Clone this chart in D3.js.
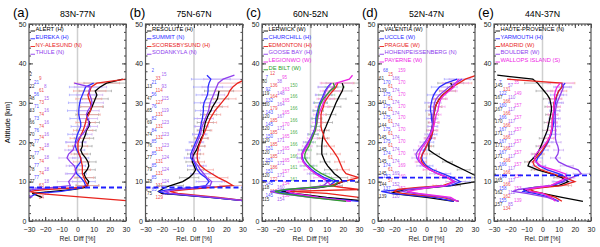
<!DOCTYPE html>
<html>
<head>
<meta charset="utf-8">
<script src="https://cdn.jsdelivr.net/npm/d3@7"></script>
<style>
  body { margin: 0; background: #fff; }
  text { font-family: "Liberation Sans", Arial, Helvetica, sans-serif; }
</style>
</head>
<body>
<div id="chart"></div>
<script>
// altitude grid [km] shared by every profile
const ALT = [5, 6, 7, 7.5, 8, 8.5, 9, 10, 11, 12, 13, 14, 15, 16, 17, 18, 19, 20, 21, 22,
             23, 24, 25, 26, 27, 28, 29, 30, 31, 32, 33, 34, 35, 36, 37];

const panelTags = ["(a)", "(b)", "(c)", "(d)", "(e)"];
const titles = ["83N-77N", "75N-67N", "60N-52N", "52N-47N", "44N-37N"];
const xTicks = [-30, -20, -10, 0, 10, 20, 30];
const yTicks = [0, 10, 20, 30, 40, 50];
const tropo = [8.5, 8.5, 10.2, 11, 11.6];   // dashed blue line [km]

// error bar levels [km] and half widths [%]
const errAlt = [9, 11, 13, 15, 17, 19, 21, 23, 25, 27, 29, 31, 33, 35];
const errA = [7, 6, 5, 5, 5, 6, 6, 6, 6, 7, 7, 8, 10, 14];
const errB = [8, 6, 5, 4, 4, 4, 4, 4, 5, 5, 6, 7, 9, 12];
const errC = [6, 5, 4, 3, 3, 3, 3, 3, 3, 3, 4, 5, 6, 10];
const errD = [6, 5, 4, 3, 3, 3, 3, 3, 3, 3, 4, 4, 5, 8];
const errE = [6, 5, 4, 3, 3, 3, 3, 3, 3, 3, 4, 4, 5, 8];

// (a) 83N-77N
const namesA = ["ALERT (H)", "EUREKA (H)", "NY-ALESUND (N)", "THULE (N)"];
const diffA = [
  [null,-22,-28,-15,-2,5,6,7,5,4,6,7,6.5,5,3,2,3,3,4,5,5.5,7,7.6,6,6,8,9,10,11,12,11,14,18,28,null],
  [null,-30,-25,-10,-3,3,5,4,2,-0.5,-1.3,0,2,2,0.8,-0.5,-1.3,-1.3,-0.7,0,1,2,2,1.3,0.8,0.8,1,1.4,2,3,4,5,10,null,null],
  [35,5,-25,-30,-20,2,6.4,5,4,3,3,3,2.4,2,1,0.3,0.3,0.3,1.4,2.4,3.5,4.3,5,5.5,7,8,8.5,8,7,6.4,7.6,8.5,12,30,null],
  [null,-28,-32,-30,-28,-15,-4.5,-5.5,-3.4,-1.5,-1,-2,-4.5,-6.5,-5.5,-2.8,-2,-0.7,0.8,3,5,6.4,7,6.4,5.5,6.4,8,9,8.5,7.6,7,8,-2,null,null]
];
const countsA = [
  [2,22,48,63,66,70,74,76,78,77,null],
  [21,56,71,73,76,77,77,77,77,77,null],
  [9,61,73,74,74,74,74,74,74,63,84],
  [8,15,16,16,16,18,18,18,18,18,null]
];

// (b) 75N-67N
const namesB = ["RESOLUTE (H)", "SUMMIT (N)", "SCORESBYSUND (H)", "SODANKYLA (N)"];
const diffB = [
  [35,10,-20,-22,-20,-18,-14.5,-7,-3,-0.5,1,0,-1,-1,0,1.5,2.5,3.5,4.5,5.8,6,6.5,7,8,9,10.4,11.5,13,14.5,15,15.5,null,null,null,null],
  [35,10,-18,-22,-14.5,0,7.3,9.3,7.3,4,2,1,0,-2,-2,-1,0,1,2.1,3.1,3.7,4.2,4.6,5.2,5.5,5.8,5.8,6.2,7.3,8.3,8.7,8.7,9.3,10.4,8],
  [35,15,-10,-15,-5,10,24,20,15,11,7,4,2.5,2,2,2.5,3,4,5,6,7,8,9,10,11.5,13,15,17,19,21,22,24,27,32,null],
  [35,12,-15,-18,-10,2,10,11,8,6,4,2.5,0.5,-0.5,-1,0,1,2,3,4,4.5,5,6,7,8,9,9.5,10,11,12,13,14,15,18,25]
];
const countsB = [
  [null,13,47,65,69,74,76,77,79,78,75],
  [2,21,56,76,82,84,85,85,85,85,85],
  [33,114,127,131,131,131,131,131,131,131,129],
  [15,93,115,119,123,123,123,124,124,124,132]
];

// (c) 60N-52N
const namesC = ["LERWICK (W)", "CHURCHILL (H)", "EDMONTON (H)", "GOOSE BAY (H)", "LEGIONWO (W)", "DE BILT (W)"];
const diffC = [
  [35,10,-10,-18,-10,5.4,13.75,20,18,14.8,12.7,10.6,9,8,7,7,7,7.2,7.5,8,8.5,9.6,10.6,11.7,12.7,13.75,14.8,15.8,17,18.3,19.6,20.4,19.6,null,null],
  [30,5,-15,-22,-10,3.3,11.7,15,8.5,4.4,0.8,-1.9,-4,-5,-5,-4,-2.5,-1.25,0.2,1.25,2.3,3,3.3,3.3,3.75,4.4,5,5.8,7,8,9,10.6,12.7,null,null],
  [35,30,10,-13,30,20,12,20,30,22,20,19,18,17,15.4,13.75,11.7,10,8.5,8,7,6.5,6.5,6.5,6.5,7,8,8.5,10,11.7,13.75,15.8,16.9,null,null],
  [25,0,-20,-25,-15,0,8,11,7,3,0,-2.5,-4.5,-5.5,-5.5,-4.5,-3,-1.5,0,1.5,2.5,3,3.5,4,4.5,5,5.5,6.5,7.5,8.5,9.5,11,13,null,null],
  [25,5,-10,-15,-10,2,12,11,7,3,0,-2.5,-4.5,-5.5,-5,-3.5,-2,-0.5,1,2,3,3.5,4,4.5,5,6,7,8,9,10,12,14,16,24,26],
  [22,0,-18,-22,-15,0,15,17,12,7,3,0,-2,-3.5,-3.5,-2.5,-1,0,1,2,3,3.5,4,4,4.5,5,5.5,6.5,8,10,12,15,14,null,null]
];
const countsC = [
  [80,119,120,120,120,120,120,120,120,118,115],
  [7,92,132,143,145,150,151,151,151,145,145],
  [12,136,164,179,185,185,185,185,186,172,112],
  [38,148,164,167,171,171,171,171,171,160,154],
  [95,163,165,165,170,165,165,165,157,154,150],
  [null,150,166,166,166,166,166,166,161,161,88]
];

// (d) 52N-47N
const namesD = ["VALENTIA (W)", "UCCLE (W)", "PRAGUE (W)", "HOHENPEISSENBERG (N)", "PAYERNE (W)"];
const diffD = [
  [17,0,-22,-18,-10,3,15,31,33,28,23,18,13,9,5,1.5,1.5,1.5,2,2.5,3,3.5,4,4,4.5,5,5.5,6.5,8,10,13,16,15,null,null],
  [17,5,-22,-28,-15,0,15,21,16,10,4,0,-2,-3,-2.5,-1.5,0,1.5,3,3.5,4,4,3.5,3,3,2.5,2.5,3,3.5,4.5,6,8,12,19,null],
  [20,10,-15,-20,-18,-5,10,17,13,7,2,-1,-3,-3.5,-2.5,-1,0,1,2.5,3.5,4,4,4.5,4.5,4.5,5,5.5,6.5,8,10,13,16,20,24,31],
  [20,12,-8,-15,-12,0,12,18,13,7,2,-2,-4.5,-6,-6.5,-5,-3,-1,0.5,2,3,3.5,4,4,4,4.5,4.5,5,6,8,11,14,18,22,null],
  [19,15,-5,-12,-5,2,12,17,13,7,2,-2,-4,-5,-4.5,-3.5,-2,0,1.5,2.5,3.5,4.5,5,5.5,6,7,7.5,8,9,11,14,17,18,20,null]
];
const countsD = [
  [61,139,141,144,144,145,145,145,145,144,139],
  [68,170,175,175,175,175,175,174,174,152,137],
  [15,61,61,61,61,61,61,61,61,57,43],
  [168,174,174,174,174,174,174,174,169,152,120],
  [159,170,170,170,170,170,170,170,169,160,152]
];

// (e) 44N-37N
const namesE = ["HAUTE-PROVENCE (N)", "YARMOUTH (H)", "MADRID (W)", "BOULDER (W)", "WALLOPS ISLAND (S)"];
const diffE = [
  [25,12,0,-8,-12,-5,10,16,12,5,-3,-9,-8,-5.5,-3.5,-2,-1,0,1,2,3,3.5,4,4.5,5,5.5,5.5,5,4.5,3,1,-1,-3,-6,-28],
  [10,5,-5,-12,-10,-2,6,13,15,10,3,-2,-4,-3,-1,0.5,2,3.5,4.5,5.5,6,6.5,7,7,7,7.5,7.5,8,8.5,9,10,12,14,null,null],
  [12,8,0,-5,-8,0,12,20,14,6,-1,-5,-6,-4,-2,0,1.5,3,4,5,5.5,6,6,6,6.5,7,7,7,8,9,10,12,12,-22,null],
  [10,3,-10,-18,-15,-5,5,12,18,24,22,15,10,8,9.5,10,9.5,8.5,8,8,8,8,8,8,8,8,8.5,9,10,11,12,13,12,null,null],
  [8,5,0,-8,-10,-3,5,10,15,14,7,-1,-4,-5,-4,-2,0.5,2.5,4,5,5.5,6,6,6.5,6.5,7,7,7.5,7.5,7.5,8,9,11,null,null]
];
const countsE = [
  [145,167,167,170,171,171,171,171,165,162,157],
  [7,122,160,166,167,167,167,166,166,158,155],
  [131,166,166,166,166,166,166,166,166,162,134],
  [57,110,117,117,117,117,117,117,117,112,85],
  [35,149,157,157,157,157,157,157,157,153,139]
];

const panels = [
  {names: namesA, diff: diffA, counts: countsA, err: errA},
  {names: namesB, diff: diffB, counts: countsB, err: errB},
  {names: namesC, diff: diffC, counts: countsC, err: errC},
  {names: namesD, diff: diffD, counts: countsD, err: errD},
  {names: namesE, diff: diffE, counts: countsE, err: errE}
];

// ---- layout / style ----
const W = 600, H = 247;
const LEFTS = [29, 145.5, 262, 378, 494], PW = 97, TOP = 24, BOT = 221;
const COLORS = ["#000000", "#2b2bff", "#e8231d", "#8f3ded", "#ee25e5", "#2f9f2f"];
const ERRCOL = ["#a0a0a0", "#a0a0ff", "#f2a09c", "#c8a6f2", "#f5a6f0", "#a0d4a0"];
// sample count label placement: top row km, row of each station, x offset of each station
const COUNT_LAYOUT = [
  {top: 37.1, rows: [0, 2, 1, 3], cols: [0.5, 5, 10, 15]},
  {top: 38.1, rows: [1, 0, 2, 1], cols: [1.5, 6, 10, 16]},
  {top: 37.5, rows: [2, 1, 0, 2, 1, 0], cols: [0, 3.5, 8, 15, 20, 28]},
  {top: 38.2, rows: [2, 0, 1, 2, 0], cols: [1, 5, 10, 14, 20]},
  {top: 35.3, rows: [1, 0, 2, 1, 0], cols: [1, 5, 9, 14, 20]}
];

const svg = d3.select("#chart").append("svg")
    .attr("width", W)
    .attr("height", H);

// y axis title
svg.append("text")
    .attr("transform", `translate(10, ${(TOP + BOT) / 2}) rotate(-90)`)
    .attr("text-anchor", "middle")
    .attr("font-size", 7.5)
    .text("Altitude [km]");

panels.forEach((p, i) => drawPanel(p, i));

function drawPanel(p, i) {
    const L = LEFTS[i];
    const x = d3.scaleLinear().domain([-30, 30]).range([L, L + PW]);
    const y = d3.scaleLinear().domain([0, 50]).range([BOT, TOP]);
    const g = svg.append("g");

    svg.append("clipPath").attr("id", "clip" + i)
        .append("rect")
        .attr("x", L).attr("y", TOP)
        .attr("width", PW).attr("height", BOT - TOP);

    // zero line
    g.append("line")
        .attr("x1", x(0)).attr("x2", x(0))
        .attr("y1", TOP).attr("y2", BOT)
        .attr("stroke", "#cfcfcf")
        .attr("stroke-width", 1.5);

    // sample counts
    const lay = COUNT_LAYOUT[i];
    p.counts.forEach((arr, s) => {
        arr.forEach((n, k) => {
            if (n === null) return;
            const km = lay.top - (k * 3 + lay.rows[s]) * 1.0;
            g.append("text")
                .attr("x", L + lay.cols[s])
                .attr("y", y(km) + 1.6)
                .attr("font-size", 4.6)
                .attr("fill", COLORS[s])
                .attr("fill-opacity", 0.85)
                .text(n);
        });
    });

    const plot = g.append("g").attr("clip-path", `url(#clip${i})`);

    // error bars
    p.diff.forEach((vals, s) => {
        const col = ERRCOL[s];
        errAlt.forEach((a, k) => {
            const alt = a + (s % 2);
            const idx = ALT.indexOf(alt);
            if (idx < 0 || vals[idx] === null) return;
            const v = vals[idx], e = p.err[k];
            const yy = y(alt);
            plot.append("line")
                .attr("x1", x(v - e)).attr("x2", x(v + e))
                .attr("y1", yy).attr("y2", yy)
                .attr("stroke", col).attr("stroke-width", 0.7);
            [v - e, v + e].forEach(c => {
                plot.append("line")
                    .attr("x1", x(c)).attr("x2", x(c))
                    .attr("y1", yy - 1.2).attr("y2", yy + 1.2)
                    .attr("stroke", col).attr("stroke-width", 0.7);
            });
        });
    });

    // profiles
    const line = d3.line()
        .defined(d => d[1] !== null)
        .x(d => x(d[1]))
        .y(d => y(d[0]));

    p.diff.forEach((vals, s) => {
        plot.append("path")
            .datum(ALT.map((a, k) => [a, vals[k]]))
            .attr("d", line)
            .attr("fill", "none")
            .attr("stroke", COLORS[s])
            .attr("stroke-width", 1.3);
    });

    // tropopause
    plot.append("line")
        .attr("x1", L).attr("x2", L + PW)
        .attr("y1", y(tropo[i])).attr("y2", y(tropo[i]))
        .attr("stroke", "#1f1fff")
        .attr("stroke-width", 1.8)
        .attr("stroke-dasharray", "5,3");

    // legend
    p.names.forEach((name, s) => {
        const ly = 31 + s * 7.75;
        g.append("line")
            .attr("x1", L + 1.5).attr("x2", L + 6)
            .attr("y1", ly).attr("y2", ly)
            .attr("stroke", COLORS[s]).attr("stroke-width", 0.9);
        g.append("text")
            .attr("x", L + 6.5).attr("y", ly)
            .attr("font-size", 5.8)
            .attr("fill", COLORS[s])
            .text(name);
    });

    // axes (ticks inward, box)
    const ax = svg.append("g").attr("color", "#444");
    ax.append("g")
        .attr("transform", `translate(0,${BOT})`)
        .call(d3.axisBottom(x).tickValues(d3.range(-30, 31, 2)).tickSize(-2).tickFormat(""));
    ax.append("g")
        .attr("transform", `translate(0,${BOT})`)
        .call(d3.axisBottom(x).tickValues(xTicks).tickSize(-4).tickPadding(6).tickFormat(d3.format("d")))
        .call(a => a.selectAll("text").attr("font-size", 7).attr("fill", "#222"));
    ax.append("g")
        .attr("transform", `translate(0,${TOP})`)
        .call(d3.axisTop(x).tickValues(d3.range(-30, 31, 2)).tickSize(-2).tickFormat(""));
    ax.append("g")
        .attr("transform", `translate(0,${TOP})`)
        .call(d3.axisTop(x).tickValues(xTicks).tickSize(-4).tickFormat(""));
    ax.append("g")
        .attr("transform", `translate(${L},0)`)
        .call(d3.axisLeft(y).tickValues(d3.range(0, 51, 2)).tickSize(-2).tickFormat(""));
    ax.append("g")
        .attr("transform", `translate(${L},0)`)
        .call(d3.axisLeft(y).tickValues(yTicks).tickSize(-4).tickPadding(2.5))
        .call(a => a.selectAll("text").attr("font-size", 7).attr("fill", "#222"));
    ax.append("g")
        .attr("transform", `translate(${L + PW},0)`)
        .call(d3.axisRight(y).tickValues(d3.range(0, 51, 2)).tickSize(-2).tickFormat(""));
    ax.append("g")
        .attr("transform", `translate(${L + PW},0)`)
        .call(d3.axisRight(y).tickValues(yTicks).tickSize(-4).tickFormat(""));
    ax.selectAll(".domain").remove();

    svg.append("rect")
        .attr("x", L).attr("y", TOP)
        .attr("width", PW).attr("height", BOT - TOP)
        .attr("fill", "none")
        .attr("stroke", "#555")
        .attr("stroke-width", 1.2);

    // labels
    svg.append("text")
        .attr("x", L - 16).attr("y", 17)
        .attr("font-size", 13)
        .text(panelTags[i]);
    svg.append("text")
        .attr("x", L + PW / 2).attr("y", 17)
        .attr("text-anchor", "middle")
        .attr("font-size", 8.8)
        .text(titles[i]);
    svg.append("text")
        .attr("x", L + PW / 2).attr("y", 241)
        .attr("text-anchor", "middle")
        .attr("font-size", 6.8)
        .attr("fill", "#222")
        .text("Rel. Diff [%]");
}
</script>
</body>
</html>
